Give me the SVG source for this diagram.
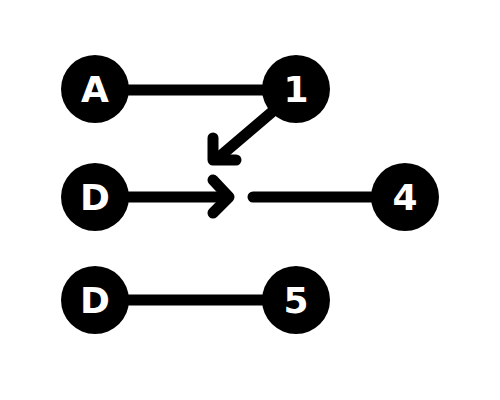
<svg xmlns="http://www.w3.org/2000/svg" width="500" height="400" viewBox="0 0 500 400">
<style>
.n{fill:#000}
.t{fill:#fff;font-family:"DejaVu Sans","Liberation Sans",Arial,sans-serif;font-weight:bold;font-size:36px;text-anchor:middle}
.c{stroke:#000;stroke-width:11;stroke-linecap:round;stroke-linejoin:round;fill:none}
</style>
<rect width="500" height="400" fill="#fff"/>
<g id="connectors">
<line class="c" x1="110" y1="90" x2="280" y2="90"/>
<line class="c" x1="272" y1="112" x2="218" y2="158"/>
<polyline class="c" points="213,138 213,160 236,160"/>
<line class="c" x1="110" y1="197" x2="226" y2="197"/>
<polyline class="c" points="213,180 229,197 213,213"/>
<line class="c" x1="253" y1="197" x2="390" y2="197"/>
<line class="c" x1="110" y1="300" x2="280" y2="300"/>
</g>
<g id="nodeA"><circle class="n" cx="95" cy="89" r="34"/><text class="t" x="95" y="102">A</text></g>
<g id="node1"><circle class="n" cx="296" cy="89" r="34"/><text class="t" x="296" y="102">1</text></g>
<g id="nodeD1"><circle class="n" cx="95" cy="197" r="34"/><text class="t" x="95" y="210">D</text></g>
<g id="node4"><circle class="n" cx="405" cy="197" r="34"/><text class="t" x="405" y="210">4</text></g>
<g id="nodeD2"><circle class="n" cx="95" cy="300" r="34"/><text class="t" x="95" y="313">D</text></g>
<g id="node5"><circle class="n" cx="296" cy="300" r="34"/><text class="t" x="296" y="313">5</text></g>
</svg>
